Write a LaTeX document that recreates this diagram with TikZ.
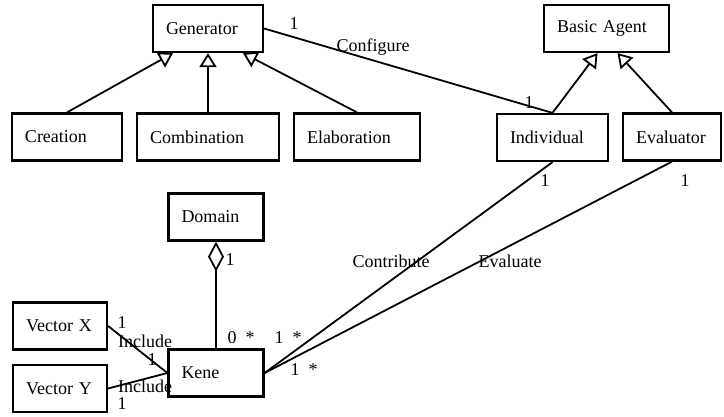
\documentclass[tikz,border=0pt]{standalone}
\usepackage{fontspec}
\setmainfont{Liberation Serif}
\usetikzlibrary{arrows.meta, calc}
\tikzset{
    %Define UML arrow tips
    inherit/.tip = {Triangle[open, length=7pt, width=8.5pt]},
    aggreg/.tip = {Diamond[open, length=15pt, width=8pt]},
}

\begin{document}
\begin{tikzpicture}[x=0.5pt, y=-0.5pt,
    cls/.style = {draw, line width=1.1pt, font=\fontsize{9}{11}\selectfont,
                  minimum height=23.5pt, inner xsep=6.5pt,
                  text width=#1, align=left},
    mult/.style = {font=\fontsize{9}{11}\selectfont, inner sep=0pt},
    link/.style = {line width=0.9pt},
  ]
  \useasboundingbox (0,0) rectangle (724,417);

  \node[cls=42pt] (generator) at (208,28.5) {Generator};
  \node[cls=49.5pt] (agent) at (606.5,28.5) {Basic Agent};
  \node[cls=42pt] (creation) at (67,137) {Creation};
  \node[cls=58pt] (combination) at (208,137) {Combination};
  \node[cls=50pt] (elaboration) at (357,137) {Elaboration};
  \node[cls=42.5pt] (individual) at (552.5,137.5) {Individual};
  \node[cls=36pt] (evaluator) at (672,137) {Evaluator};
  \node[cls=34.5pt] (domain) at (216,217) {Domain};
  \node[cls=34.5pt] (kene) at (216,373) {Kene};
  \node[cls=34pt] (vectorx) at (60,326) {Vector X};
  \node[cls=34pt] (vectory) at (60,388.5) {Vector Y};

  % generalisation
  \draw[link, -inherit] (creation.north) -- ($(generator.south)+(-35,0)$);
  \draw[link, -inherit] (combination.north) -- (generator.south);
  \draw[link, -inherit] (elaboration.north) -- ($(generator.south)+(35,0)$);
  \draw[link, -inherit] (individual.north) -- ($(agent.south)+(-9,0)$);
  \draw[link, -inherit] (evaluator.north) -- ($(agent.south)+(11,0)$);

  % associations
  \draw[link] (generator.east) -- (individual.north);
  \draw[link, -aggreg] (kene.north) -- (domain.south);
  \draw[link] (individual.south) -- (kene.east);
  \draw[link] (evaluator.south) -- (kene.east);
  \draw[link] (vectorx.east) -- (kene.west);
  \draw[link] (vectory.east) -- (kene.west);

  \node[mult] (gen-mult) at (294,24) {1};
  \node[mult] (configure) at (373,47) {Configure};
  \node[mult] (ind-mult-top) at (529,103) {1};
  \node[mult] (ind-mult) at (545,181) {1};
  \node[mult] (eval-mult) at (685,181) {1};
  \node[mult] (contribute) at (391,261) {Contribute};
  \node[mult] (evaluate) at (510,261) {Evaluate};
  \node[mult] (domain-mult) at (230,260) {1};
  \node[mult] (kene-mult-dom) at (241,338) {0\ \ *};
  \node[mult] (kene-mult-ind) at (288,338) {1\ \ *};
  \node[mult] (kene-mult-eval) at (304,370) {1\ \ *};
  \node[mult] (vx-mult) at (122,323) {1};
  \node[mult] (include-x) at (145,341) {Include};
  \node[mult] (kene-mult-x) at (152,360) {1};
  \node[mult] (include-y) at (145,386) {Include};
  \node[mult] (vy-mult) at (122,404) {1};
\end{tikzpicture}
\end{document}
